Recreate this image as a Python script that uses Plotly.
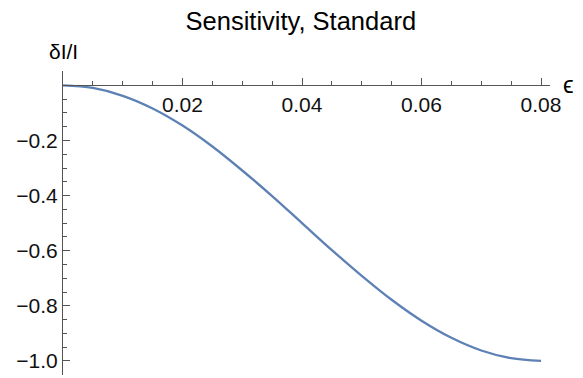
import plotly.graph_objects as go

# data
eps = [0.0, 0.005, 0.01, 0.015, 0.02, 0.025, 0.03, 0.035, 0.04,
       0.045, 0.05, 0.055, 0.06, 0.065, 0.07, 0.075, 0.08]
dI = [0.0, -0.0096, -0.038, -0.084, -0.146, -0.222, -0.309, -0.402, -0.5,
      -0.598, -0.691, -0.778, -0.854, -0.916, -0.962, -0.990, -1.0]

x_ticks = [0.02, 0.04, 0.06, 0.08]
x_tick_labels = ["0.02", "0.04", "0.06", "0.08"]
x_minor = [0.005, 0.01, 0.015, 0.025, 0.03, 0.035, 0.045, 0.05, 0.055,
           0.065, 0.07, 0.075]
y_ticks = [-1.0, -0.8, -0.6, -0.4, -0.2]
y_tick_labels = ["\u22121.0", "\u22120.8", "\u22120.6", "\u22120.4", "\u22120.2"]
y_minor = [0.05, -0.05, -0.1, -0.15, -0.25, -0.3, -0.35, -0.45, -0.5, -0.55,
           -0.65, -0.7, -0.75, -0.85, -0.9, -0.95, -1.05]

x_range = [0.0, 0.0815]
y_range = [-1.051, 0.052]

FONT = "Liberation Sans, Arial, sans-serif"
AXIS = "#555555"

# the page body has an 8px default margin, so the figure is sized to fit the window
W, H = 575, 370

fig = go.Figure()
fig.add_trace(go.Scatter(x=eps, y=dI, mode="lines",
                         line=dict(color="#5E81B5", width=2.3, shape="spline"),
                         hoverinfo="skip"))

y0_frac = (0 - y_range[0]) / (y_range[1] - y_range[0])

fig.update_layout(
    width=W, height=H,
    margin=dict(l=54.5, r=33, t=62.7, b=2.5, autoexpand=False),
    paper_bgcolor="white", plot_bgcolor="white",
    showlegend=False,
    title=dict(text="Sensitivity, Standard", x=292.8 / W, xref="container",
               xanchor="center", y=1 - 13 / H, yref="container", yanchor="middle",
               font=dict(family=FONT, size=25.5, color="black")),
    xaxis=dict(range=x_range, anchor="free", position=y0_frac, automargin=False,
               showline=True, linecolor=AXIS, linewidth=1,
               showgrid=False, zeroline=False,
               tickmode="array", tickvals=x_ticks, ticktext=x_tick_labels,
               ticks="inside", ticklen=7, tickcolor=AXIS, tickwidth=1,
               tickfont=dict(family=FONT, size=21, color="#111111"),
               minor=dict(tickmode="array", tickvals=x_minor, ticks="inside",
                          ticklen=4, tickcolor=AXIS, tickwidth=1, showgrid=False)),
    yaxis=dict(range=y_range, automargin=False, showline=True, linecolor=AXIS, linewidth=1,
               showgrid=False, zeroline=False,
               tickmode="array", tickvals=y_ticks, ticktext=y_tick_labels,
               ticks="inside", ticklen=7, tickcolor=AXIS, tickwidth=1,
               tickfont=dict(family=FONT, size=21, color="#111111"),
               minor=dict(tickmode="array", tickvals=y_minor, ticks="inside",
                          ticklen=4, tickcolor=AXIS, tickwidth=1, showgrid=False)),
    annotations=[
        dict(text="\u03b4I/I", x=0, xref="paper", xanchor="center", xshift=0.5,
             y=1, yref="paper", yanchor="middle", yshift=20, showarrow=False,
             font=dict(family=FONT, size=21, color="black")),
        dict(text="\u03f5", x=1, xref="paper", xanchor="center", xshift=18,
             y=0, yref="y", yanchor="middle", yshift=1, showarrow=False,
             font=dict(family=FONT, size=24, color="black")),
    ],
)

fig.write_html("out.html")
